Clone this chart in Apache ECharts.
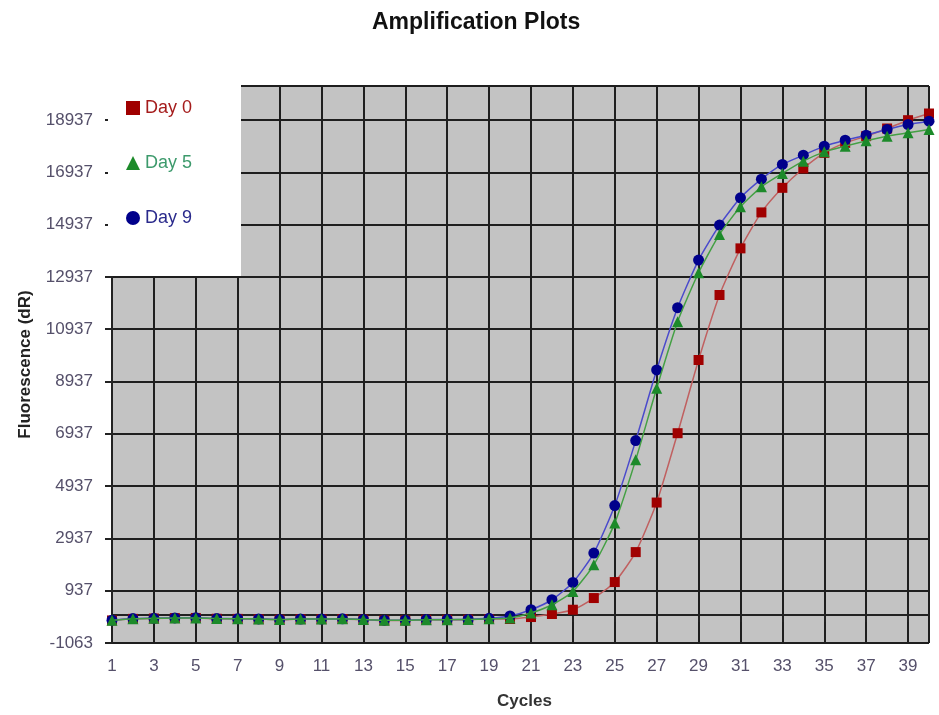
<!DOCTYPE html>
<html>
<head>
<meta charset="utf-8">
<title>Amplification Plots</title>
<script src="https://cdn.jsdelivr.net/npm/echarts@6/dist/echarts.min.js"></script>
<style>
  html, body { margin: 0; padding: 0; background: #ffffff; }
  #chart { width: 939px; height: 715px; }
</style>
</head>
<body>
<div id="chart"></div>
<script>
// Amplification cycles 1..40
const cycles = Array.from({ length: 40 }, (_, i) => i + 1);

// Fluorescence (dR) per cycle for each sample
const day0 = [
  -200, -140, -125, -110, -105, -135, -140, -150, -170, -150,
  -150, -145, -170, -200, -200, -175, -175, -170, -145, -146,
  -70, 45, 209, 656, 1267, 2413, 4308, 6960, 9760, 12244,
  14028, 15403, 16343, 17084, 17680, 18062, 18318, 18612, 18930, 19185
];
const day5 = [
  -195, -135, -120, -108, -105, -130, -135, -145, -165, -148,
  -148, -140, -165, -195, -195, -170, -170, -165, -140, -108,
  83, 400, 908, 1928, 3522, 5940, 8679, 11224, 13096, 14563,
  15617, 16381, 16893, 17363, 17719, 17937, 18139, 18318, 18445, 18574
];
const day9 = [
  -190, -130, -118, -105, -100, -128, -132, -142, -160, -145,
  -145, -138, -160, -190, -190, -165, -165, -160, -120, -30,
  209, 591, 1252, 2375, 4194, 6677, 9378, 11758, 13581, 14918,
  15961, 16675, 17237, 17592, 17937, 18165, 18356, 18574, 18765, 18891
];

// Axis settings
const yMin = -1063;
const yMax = 20237;
const yStep = 2000;
const xMin = 1;
const xMax = 40;
const xStep = 2;

const seriesNames = ['Day 0', 'Day 5', 'Day 9'];

const chart = echarts.init(document.getElementById('chart'), null, { renderer: 'canvas' });

const pairs = (arr) => arr.map((v, i) => [cycles[i], v]);
const fontFamily = '"Liberation Sans", Arial, sans-serif';
const labelColor = '#55506a';
const plain = (v) => String(Math.round(v));

chart.setOption({
  animation: false,
  backgroundColor: '#ffffff',
  textStyle: { fontFamily },
  title: {
    text: 'Amplification Plots',
    left: 367,
    top: 6,
    textStyle: { fontSize: 23, fontWeight: 'bold', color: '#111111', fontFamily }
  },
  grid: {
    left: 112, right: 10, top: 86, bottom: 72,
    outerBoundsMode: 'none',
    containLabel: false,
    show: true, backgroundColor: '#c3c3c3', borderWidth: 0
  },
  legend: {
    orient: 'vertical',
    left: 121,
    top: 94,
    itemGap: 37,
    itemWidth: 14,
    itemHeight: 14,
    z: 20,
    itemStyle: { borderWidth: 0 },
    data: [
      { name: 'Day 0', icon: 'rect', textStyle: { color: '#a51c1c' } },
      { name: 'Day 5', icon: 'triangle', textStyle: { color: '#3d9a6c' } },
      { name: 'Day 9', icon: 'circle', textStyle: { color: '#2a2a8c' } }
    ],
    textStyle: { fontSize: 18, fontFamily, padding: [0, 0, 8, 0] }
  },
  graphic: [
    {
      type: 'rect',
      z: 10,
      shape: { x: 108, y: 84, width: 133, height: 192 },
      style: { fill: '#ffffff' }
    }
  ],
  xAxis: {
    type: 'value',
    min: xMin,
    max: xMax,
    interval: xStep,
    name: 'Cycles',
    nameLocation: 'middle',
    nameGap: 50,
    nameTextStyle: { fontSize: 17, fontWeight: 'bold', color: '#333333', padding: [0, 0, 0, 8] },
    axisLine: { show: true, lineStyle: { color: '#222222', width: 2 } },
    axisTick: { show: true, length: 7, lineStyle: { color: '#222222', width: 2 } },
    axisLabel: { fontSize: 17, color: labelColor, margin: 15, showMaxLabel: false, formatter: plain },
    splitLine: { show: true, lineStyle: { color: '#1e1e1e', width: 2 } }
  },
  yAxis: {
    type: 'value',
    min: yMin,
    max: yMax,
    interval: yStep,
    name: 'Fluorescence (dR)',
    nameLocation: 'middle',
    nameGap: 78,
    nameTextStyle: { fontSize: 17, fontWeight: 'bold', color: '#222222' },
    axisLine: { show: true, lineStyle: { color: '#222222', width: 2 } },
    axisTick: { show: true, length: 7, lineStyle: { color: '#222222', width: 2 } },
    axisLabel: { fontSize: 17, color: labelColor, margin: 19, showMaxLabel: false, formatter: plain },
    splitLine: { show: true, lineStyle: { color: '#1e1e1e', width: 2 } }
  },
  series: [
    {
      name: seriesNames[0],
      type: 'line',
      data: pairs(day0),
      smooth: 0.2,
      symbol: 'rect',
      symbolSize: 10,
      itemStyle: { color: '#a00000' },
      lineStyle: { color: '#c06060', width: 1.5 },
      z: 2
    },
    {
      name: seriesNames[2],
      type: 'line',
      data: pairs(day9),
      smooth: 0.2,
      symbol: 'circle',
      symbolSize: 11,
      itemStyle: { color: '#00008b' },
      lineStyle: { color: '#4a4acc', width: 1.5 },
      z: 3
    },
    {
      name: seriesNames[1],
      type: 'line',
      data: pairs(day5),
      smooth: 0.2,
      symbol: 'triangle',
      symbolSize: 11,
      itemStyle: { color: '#1c8a2a' },
      lineStyle: { color: '#44a044', width: 1.5 },
      z: 4
    }
  ]
});
</script>
</body>
</html>
